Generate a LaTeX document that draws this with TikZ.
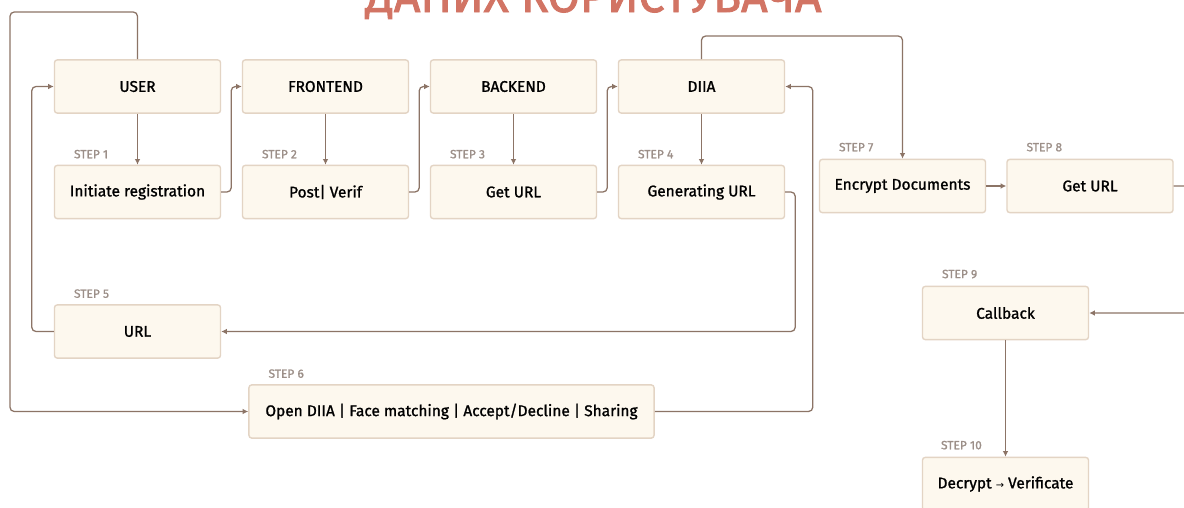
\documentclass[tikz,border=0pt]{standalone}
\usepackage{fontspec}
\setmainfont{Fira Sans}[FakeBold=1.2]
\newfontfamily\titlefont{Fira Sans}[FakeBold=2]
\newfontfamily\symfont{DejaVu Sans}
\usetikzlibrary{arrows.meta,calc}
\definecolor{boxfill}{HTML}{FDF8EE}
\definecolor{boxline}{HTML}{E3D4C4}
\definecolor{arrowc}{HTML}{8C7466}
\definecolor{steptxt}{HTML}{9C8F88}
\definecolor{titlec}{HTML}{D27464}

\begin{document}
\begin{tikzpicture}[x=0.025cm,y=-0.025cm,
	box/.style={draw=boxline,fill=boxfill,line width=1pt,rounded corners=2pt,minimum width=4.15cm,minimum height=1.33cm,inner sep=2pt,font=\fontsize{11}{13}\selectfont},
	steplbl/.style={text=steptxt,font=\fontsize{8.5}{10}\selectfont,anchor=south west,inner sep=0pt},
	flow/.style={draw=arrowc,line width=0.9pt,rounded corners=3pt,-{Latex[length=4pt,width=4pt]}}]
				\useasboundingbox (0,0) rectangle (1184,507);
				\fill[white] (0,0) rectangle (1184,507);
				\clip (0,0) rectangle (1184,507);
				% title, cut off by the top edge
				\node[text=titlec,font=\titlefont\fontsize{33}{35}\selectfont,anchor=base] (title) at (593.5,12) {ДАНИХ КОРИСТУВАЧА};
				% first row
				\node[box] (user) at (137.5,86.5) {USER};
				\node[box] (front) at (325.5,86.5) {FRONTEND};
				\node[box] (back) at (513.5,86.5) {BACKEND};
				\node[box] (diia) at (701.5,86.5) {DIIA};
				% second row
				\node[box] (init) at (137.5,192) {Initiate registration};
				\node[box] (post) at (325.5,192) {Post| Verif};
				\node[box] (geturl) at (513.5,192) {Get URL};
				\node[box] (gen) at (701.5,192) {Generating URL};
				\node[box] (encrypt) at (902.5,186) {Encrypt Documents};
				\node[box] (geturlb) at (1090,186) {Get URL};
				% lower boxes
				\node[box] (url) at (137.5,331.5) {URL};
				\node[box,minimum width=10.125cm] (open) at (451.5,411.5) {Open DIIA | Face matching | Accept/Decline | Sharing};
				\node[box] (callback) at (1005.5,313) {Callback};
				\node[box] (decrypt) at (1005.5,484) {Decrypt {\symfont\fontsize{7}{8}\selectfont →} Verificate};
				% step labels
				\node[steplbl] (s1) at ($(init.north west)+(20,-6)$) {STEP 1};
				\node[steplbl] (s2) at ($(post.north west)+(20,-6)$) {STEP 2};
				\node[steplbl] (s3) at ($(geturl.north west)+(20,-6)$) {STEP 3};
				\node[steplbl] (s4) at ($(gen.north west)+(20,-6)$) {STEP 4};
				\node[steplbl] (s5) at ($(url.north west)+(20,-6)$) {STEP 5};
				\node[steplbl] (s6) at ($(open.north west)+(20,-6)$) {STEP 6};
				\node[steplbl] (s7) at ($(encrypt.north west)+(20,-7)$) {STEP 7};
				\node[steplbl] (s8) at ($(geturlb.north west)+(20,-7)$) {STEP 8};
				\node[steplbl] (s9) at ($(callback.north west)+(20,-7)$) {STEP 9};
				\node[steplbl] (s10) at ($(decrypt.north west)+(19,-7)$) {STEP 10};
				\coordinate (loopa) at (10,12);
				\coordinate (loopb) at (800,36);
				% connectors
				\draw[flow] (user) -- (init);
				\draw[flow] (init.east) -- ++(10,0) |- (front.west);
				\draw[flow] (front) -- (post);
				\draw[flow] (post.east) -- ++(10,0) |- (back.west);
				\draw[flow] (back) -- (geturl);
				\draw[flow] (geturl.east) -- ++(10,0) |- (diia.west);
				\draw[flow] (diia) -- (gen);
				\draw[flow] (gen.east) -- ++(10,0) |- (url.east);
				\draw[flow] (url.west) -- ++(-22,0) |- (user.west);
				\draw[flow] (user.north) |- (loopa) |- (open.west);
				\draw[flow] (open.east) -- ++(158,0) |- (diia.east);
				\draw[flow] (diia.north) |- (loopb) -| (encrypt.north);
				\draw[flow] (encrypt) -- (geturlb);
				\draw[flow] (geturlb.east) -- ++(22,0) |- (callback.east);
				\draw[flow] (callback) -- (decrypt);
			\end{tikzpicture}
\end{document}
